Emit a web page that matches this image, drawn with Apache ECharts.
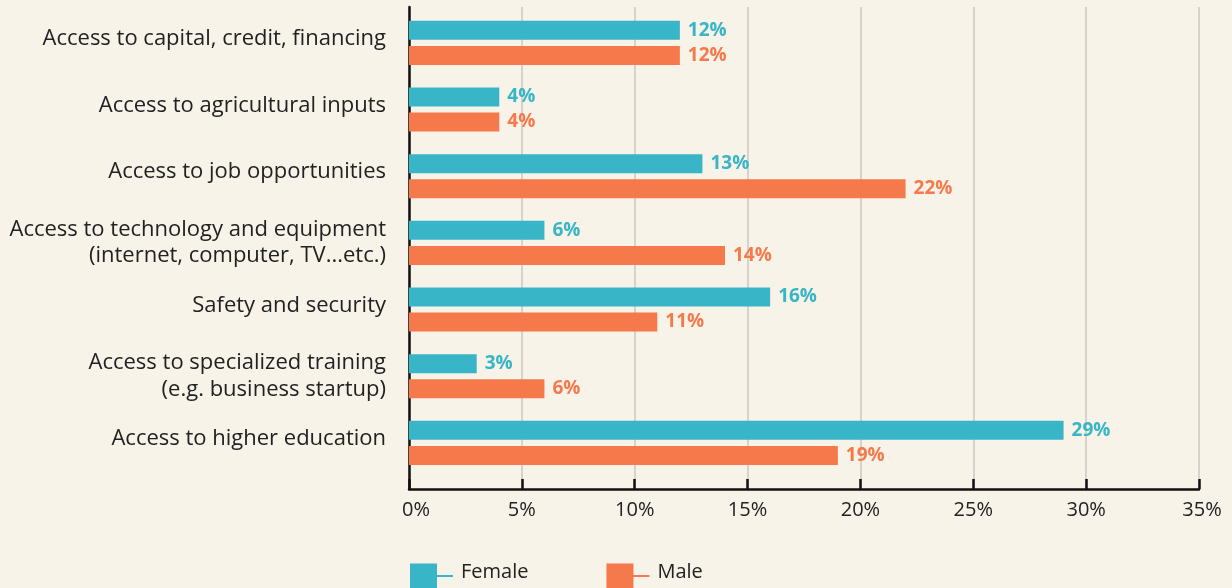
<!DOCTYPE html>
<html>
<head>
    <meta charset="UTF-8">
    <title>Barriers by gender</title>
    <style>
        html, body { margin: 0; padding: 0; background: #f7f3e8; }
        #box { width: 1232px; height: 588px; }
    </style>
    <script src="https://cdn.jsdelivr.net/npm/echarts@6/dist/echarts.min.js"></script>
</head>
<body>
<div id="box"></div>
<script>
    // data
    var categories = [
        'Access to capital, credit, financing',
        'Access to agricultural inputs',
        'Access to job opportunities',
        'Access to technology and equipment\n(internet, computer, TV...etc.)',
        'Safety and security',
        'Access to specialized training\n(e.g. business startup)',
        'Access to higher education'
    ];
    var female = [12, 4, 13, 6, 16, 3, 29];
    var male = [12, 4, 22, 14, 11, 6, 19];
    var seriesNames = ['Female', 'Male'];

    var teal = '#38b5c6';
    var orange = '#f5794a';
    var font = 'Open Sans';

    var myChart = echarts.init(document.getElementById('box'));

    function barLabel(color) {
        return {
            show: true,
            position: 'right',
            distance: 8,
            formatter: '{c}%',
            color: color,
            fontFamily: font,
            fontWeight: 'bold',
            fontSize: 19
        };
    }

    var legendIcon = 'path://M0,0H27V27H0Z M27,11.5H43V13.5H27Z';

    var option = {
        backgroundColor: '#f7f3e8',
        animation: false,
        legend: {
            left: 410,
            top: 562,
            padding: 0,
            itemWidth: 43,
            itemHeight: 27,
            itemGap: 78,
            formatter: function (name) {
                return '{n|' + name + '}';
            },
            textStyle: {
                fontFamily: font, fontSize: 20, color: '#222',
                rich: { n: { fontFamily: font, fontSize: 20, color: '#222', padding: [0, 0, 10, 3] } }
            },
            data: [
                { name: seriesNames[0], icon: legendIcon },
                { name: seriesNames[1], icon: legendIcon }
            ]
        },
        grid: [
            // bars
            { left: 409, right: 33, top: 9.5, height: 466.7 },
            // axes and gridlines
            { left: 409, right: 33, top: 7, bottom: 99 }
        ],
        xAxis: [
            { gridIndex: 0, type: 'value', min: 0, max: 35, show: false },
            {
                gridIndex: 1,
                type: 'value',
                min: 0,
                max: 35,
                interval: 5,
                axisLine: { show: true, onZero: false, lineStyle: { color: '#111', width: 2.5 } },
                axisTick: { show: true, inside: true, length: 10, lineStyle: { color: '#111', width: 2.5 } },
                axisLabel: {
                    formatter: function (v) {
                        if (v === 0) return '{a|0%}';
                        if (v === 35) return '{b|35%}';
                        return v + '%';
                    },
                    rich: {
                        a: { fontFamily: font, fontSize: 20, color: '#222', padding: [0, 0, 0, 14] },
                        b: { fontFamily: font, fontSize: 20, color: '#222', padding: [0, 0, 0, 6] }
                    },
                    fontFamily: font, fontSize: 20, color: '#222', margin: 11
                },
                splitLine: { show: true, lineStyle: { color: '#c8c8c4', width: 1.5 } }
            }
        ],
        yAxis: [
            {
                gridIndex: 0,
                type: 'category',
                inverse: true,
                data: categories,
                axisLine: { show: false },
                axisTick: { show: false },
                axisLabel: {
                    formatter: function (v) {
                        // single line labels sit a little higher than the band centre
                        return v.indexOf('\n') < 0 ? '{s|' + v + '}' : v;
                    },
                    rich: {
                        s: { fontFamily: font, fontSize: 22, color: '#222', padding: [0, 0, 8, 0] }
                    },
                    fontFamily: font, fontSize: 22, color: '#222', margin: 23, lineHeight: 26.7
                }
            },
            {
                gridIndex: 1,
                type: 'value',
                min: 0,
                max: 1,
                axisLine: { show: true, onZero: false, lineStyle: { color: '#111', width: 2.5 } },
                axisTick: { show: false },
                axisLabel: { show: false },
                splitLine: { show: false }
            }
        ],
        series: [
            {
                name: seriesNames[0],
                type: 'bar',
                xAxisIndex: 0,
                yAxisIndex: 0,
                barWidth: 19,
                barGap: '32%',
                itemStyle: { color: teal },
                label: barLabel(teal),
                data: female
            },
            {
                name: seriesNames[1],
                type: 'bar',
                xAxisIndex: 0,
                yAxisIndex: 0,
                barWidth: 19,
                barGap: '32%',
                itemStyle: { color: orange },
                label: barLabel(orange),
                data: male
            }
        ]
    };

    myChart.setOption(option);
</script>
</body>
</html>
